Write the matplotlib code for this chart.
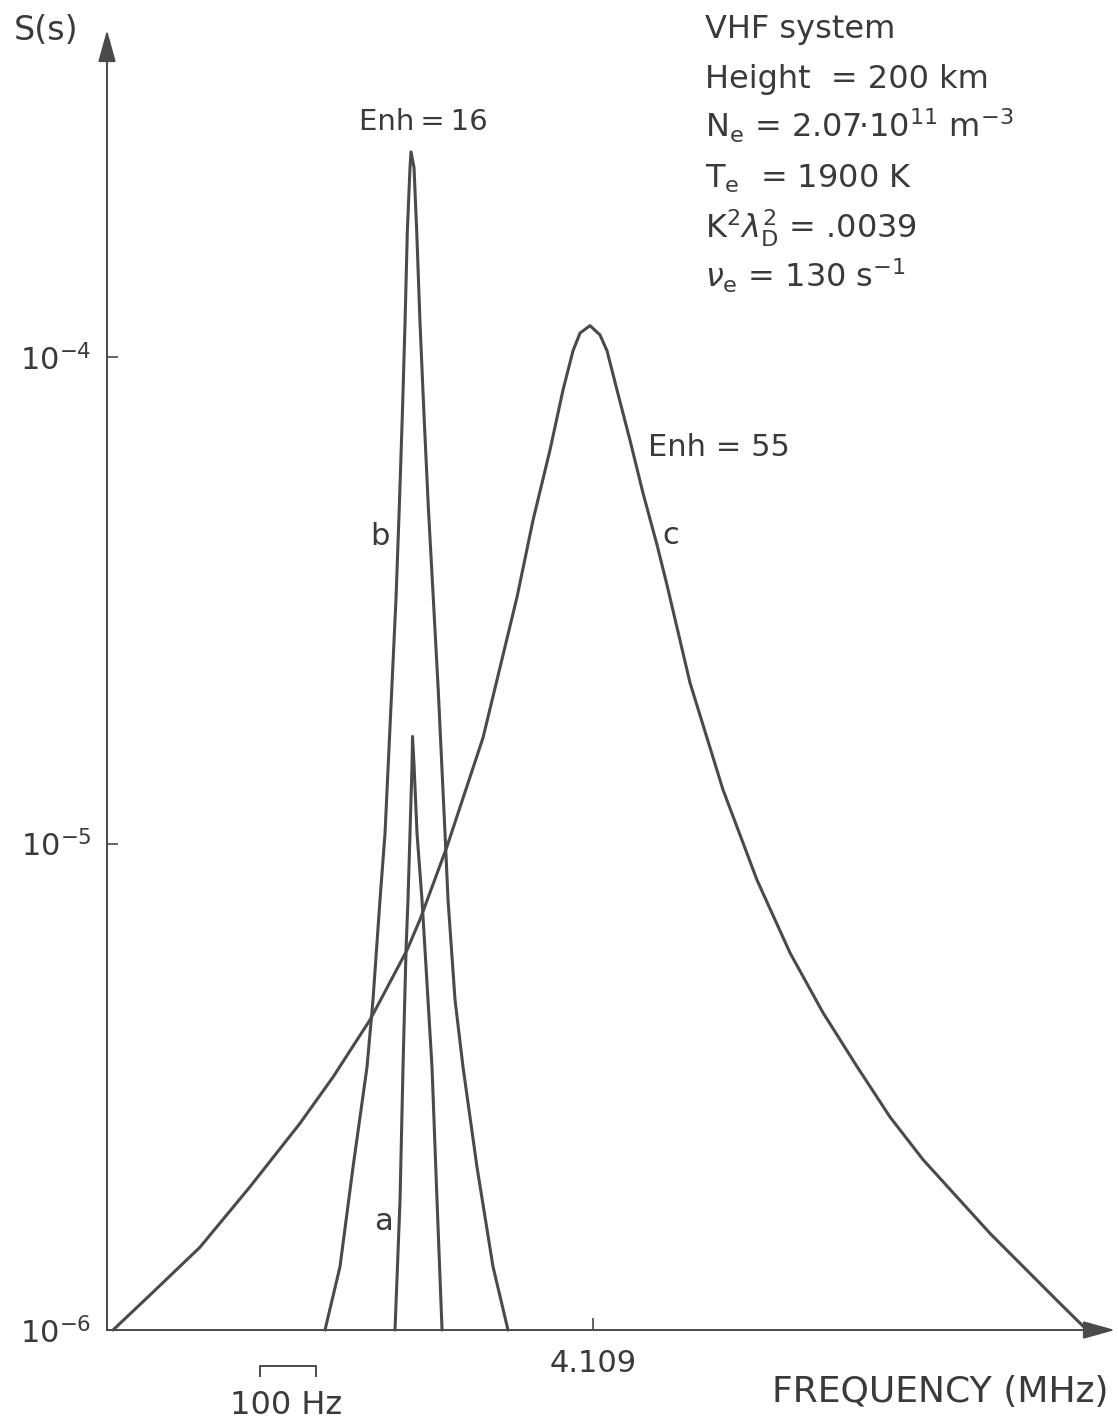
import matplotlib
matplotlib.use("Agg")
import matplotlib.pyplot as plt
import matplotlib.transforms as mtransforms
from matplotlib.ticker import NullLocator, FixedLocator, FixedFormatter

plt.rcParams['font.family'] = ['DejaVu Sans']
plt.rcParams['mathtext.fontset'] = 'dejavusans'

# ---------------- data (frequency offset from 4.109 MHz in Hz, spectrum S) -------------
CENTER_MHZ = 4.109

# curve a (narrow line)
a_freq = [-353.6, -344.6, -339.3, -333.9, -330.4, -326.8, -323.2, -322.3,
          -319.6, -314.3, -305.4, -300.0, -287.5, -278.6, -269.6]
a_S = [1.0e-6, 1.85e-6, 3.47e-6, 6.04e-6, 7.66e-6, 1.05e-5, 1.45e-5, 1.66e-5,
       1.45e-5, 1.05e-5, 7.66e-6, 6.04e-6, 3.47e-6, 1.85e-6, 1.0e-6]

# curve b (Enh = 16)
b_freq = [-478.6, -451.8, -428.6, -403.6, -392.9, -380.4, -371.4, -359.5,
          -351.8, -345.9, -340.5, -335.7, -331.6, -326.8, -325.0,
          -319.6, -314.8, -308.9, -301.8, -294.1, -285.2, -276.3, -264.3,
          -258.9, -246.4, -232.1, -207.1, -178.6, -151.8]
b_S = [1.0e-6, 1.35e-6, 2.16e-6, 3.47e-6, 4.77e-6, 7.66e-6, 1.05e-5, 2.06e-5,
       3.19e-5, 4.92e-5, 7.60e-5, 1.172e-4, 1.81e-4, 2.45e-4, 2.64e-4,
       2.45e-4, 1.81e-4, 1.172e-4, 7.60e-5, 4.92e-5, 3.19e-5, 2.06e-5, 1.05e-5,
       7.66e-6, 4.77e-6, 3.47e-6, 2.16e-6, 1.35e-6, 1.0e-6]

# curve c (Enh = 55)
c_freq = [-857.1, -791.1, -701.8, -612.5, -523.2, -464.3, -398.2, -332.1,
          -308.9, -260.7, -196.4, -135.7, -107.1, -76.8, -53.6, -35.7, -23.2,
          -5.4, 12.5, 25.0, 42.9, 66.1, 89.3, 114.3, 132.1, 173.2, 232.1,
          292.9, 351.8, 410.7, 471.4, 530.4, 589.3, 708.9, 828.6, 882.1]
c_S = [1.0e-6, 1.18e-6, 1.48e-6, 1.97e-6, 2.66e-6, 3.31e-6, 4.34e-6, 6.04e-6,
       6.98e-6, 9.86e-6, 1.65e-5, 3.21e-5, 4.62e-5, 6.44e-5, 8.55e-5, 1.03e-4,
       1.12e-4, 1.16e-4, 1.11e-4, 1.03e-4, 8.55e-5, 6.74e-5, 5.25e-5, 4.11e-5,
       3.40e-5, 2.14e-5, 1.29e-5, 8.41e-6, 5.96e-6, 4.49e-6, 3.48e-6, 2.74e-6,
       2.24e-6, 1.58e-6, 1.15e-6, 1.0e-6]

y_ticks = [1e-6, 1e-5, 1e-4]
y_tick_labels = [r'$10^{-6}$', r'$10^{-5}$', r'$10^{-4}$']
x_ticks = [0.0]
x_tick_labels = ['4.109']
SCALE_BAR_HZ = 100

param_lines = [
    'VHF system',
    'Height  = 200 km',
    r'N$_{\mathrm{e}}$ = 2.07·10$^{11}$ m$^{-3}$',
    r'T$_{\mathrm{e}}$  = 1900 K',
    r'K$^{2}\lambda_{\mathrm{D}}^{2}$ = .0039',
    r'$\nu_{\mathrm{e}}$ = 130 s$^{-1}$',
]

# ---------------- figure ----------------
W, H = 1118, 1422
fig = plt.figure(figsize=(W / 100, H / 100), dpi=100)
fig.patch.set_facecolor('white')

ax = fig.add_axes([107 / W, 92 / H, (1112 - 107) / W, 1300 / H])
ax.set_yscale('log')
ax.set_xlim(-867.9, 926.8)
ax.set_ylim(1e-6, 10 ** (-6 + 1300 / 486.5))

LC = '#4a4a4a'
TC = '#3a3a3a'

for xs, ys in [(a_freq, a_S), (b_freq, b_S), (c_freq, c_S)]:
    ax.plot(xs, ys, color=LC, lw=2.2, solid_joinstyle='round',
            solid_capstyle='round', clip_on=False)

for s in ax.spines.values():
    s.set_visible(False)

# axes with arrows
arrow_kw = dict(arrowstyle='-|>,head_length=0.9,head_width=0.25',
                color=LC, lw=1.4, mutation_scale=22, shrinkA=0, shrinkB=0)
ax.annotate('', xy=(0, 1.0), xytext=(0, 0), xycoords='axes fraction',
            arrowprops=arrow_kw)
ax.annotate('', xy=(1.003, 0), xytext=(0, 0), xycoords='axes fraction',
            arrowprops=arrow_kw)

ax.yaxis.set_major_locator(FixedLocator(y_ticks))
ax.yaxis.set_major_formatter(FixedFormatter(y_tick_labels))
ax.yaxis.set_minor_locator(NullLocator())
ax.set_xticks(x_ticks)
ax.set_xticklabels(x_tick_labels)
ax.tick_params(axis='y', direction='in', length=8, width=1.2, color=LC,
               labelsize=22, labelcolor=TC, pad=11)
ax.tick_params(axis='x', direction='in', length=9, width=1.2, color=LC,
               labelsize=22, labelcolor=TC, pad=14)

# 100 Hz scale bar below axis
trans = mtransforms.blended_transform_factory(ax.transData, ax.transAxes)
x0 = -594.0
yb_top = -36 / 1300
yb_bot = -46 / 1300
ax.plot([x0, x0, x0 + SCALE_BAR_HZ, x0 + SCALE_BAR_HZ],
        [yb_bot, yb_top, yb_top, yb_bot], color=LC, lw=1.4,
        transform=trans, clip_on=False)

def ftext(x, y, s, **kw):
    kw.setdefault('color', TC)
    kw.setdefault('fontsize', 24)
    fig.text(x / W, 1 - y / H, s, **kw)

ftext(286, 1406, f'{SCALE_BAR_HZ} Hz', ha='center', va='center', fontsize=23)
ftext(1108, 1392, 'FREQUENCY (MHz)', ha='right', va='center', fontsize=26)
ftext(14, 30, 'S(s)', ha='left', va='center', fontsize=24)

# parameter block
baselines = [38, 88, 138, 188, 238, 288]
for s, yb in zip(param_lines, baselines):
    ftext(705, yb, s, ha='left', va='baseline', fontsize=23)

# curve labels
ftext(423, 122, 'Enh\u2009=\u200916', ha='center', va='center', fontsize=21)
ftext(648, 447, 'Enh = 55', ha='left', va='center', fontsize=22)
ftext(380, 537, 'b', ha='center', va='center', fontsize=22)
ftext(671, 535, 'c', ha='center', va='center', fontsize=22)
ftext(384, 1222, 'a', ha='center', va='center', fontsize=22)

fig.savefig('out.png', dpi=100, facecolor='white')
